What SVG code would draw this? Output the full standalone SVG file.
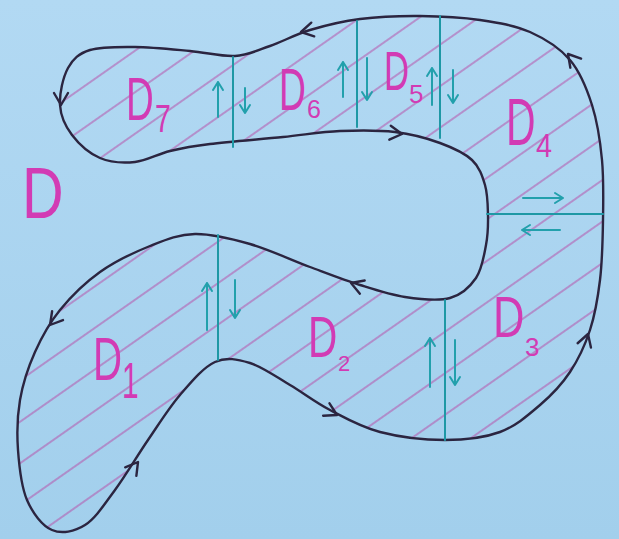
<svg xmlns="http://www.w3.org/2000/svg" width="619" height="539" viewBox="0 0 619 539">
<defs>
<linearGradient id="bg" x1="0" y1="0" x2="0" y2="1">
<stop offset="0" stop-color="#b2d9f3"/>
<stop offset="1" stop-color="#a2cfec"/>
</linearGradient>
<pattern id="hatch" patternUnits="userSpaceOnUse" width="100" height="34" patternTransform="rotate(-35)">
<line x1="0" y1="17" x2="100" y2="17" stroke="#b84aa6" stroke-width="1.1"/>
</pattern>
<path id="ah" d="M-12,-7 L0,0 L-12,7"/>
<path id="region-path" d="M60,105 C60.7,116.2 65.3,126.2 72,135 C78.7,143.8 89.5,153.5 100,158 C110.5,162.5 123.3,163.2 135,162 C146.7,160.8 157.5,154 170,151 C182.5,148 191.2,146.3 210,144 C228.8,141.7 261.3,139.2 283,137 C304.7,134.8 321.3,131.8 340,131 C358.7,130.2 378.3,130 395,132 C411.7,134 427.2,138.3 440,143 C452.8,147.7 464.5,153 472,160 C479.5,167 482.3,175.8 485,185 C487.7,194.2 487.8,205 488,215 C488.2,225 488,234.5 486,245 C484,255.5 482,269.2 476,278 C470,286.8 461.8,294.8 450,298 C438.2,301.2 420,299.2 405,297 C390,294.8 375.8,290 360,285 C344.2,280 328.3,273.8 310,267 C291.7,260.2 269.2,249.5 250,244 C230.8,238.5 211.7,233.7 195,234 C178.3,234.3 165.8,239.7 150,246 C134.2,252.3 115,261.3 100,272 C85,282.7 70.8,296.7 60,310 C49.2,323.3 41.7,337 35,352 C28.3,367 22.8,383.7 20,400 C17.2,416.3 16.8,433.3 18,450 C19.2,466.7 21.3,486.7 27,500 C32.7,513.3 42.3,525.8 52,530 C61.7,534.2 74.5,531.7 85,525 C95.5,518.3 104.5,504.2 115,490 C125.5,475.8 137.2,455.8 148,440 C158.8,424.2 168.8,408 180,395 C191.2,382 203.3,367.3 215,362 C226.7,356.7 237.5,359.2 250,363 C262.5,366.8 276.7,377.2 290,385 C303.3,392.8 315,402.2 330,410 C345,417.8 360.8,427 380,432 C399.2,437 425,440 445,440 C465,440 484.2,437.8 500,432 C515.8,426.2 528.3,415 540,405 C551.7,395 561.7,384.5 570,372 C578.3,359.5 585,345.3 590,330 C595,314.7 597.8,298.3 600,280 C602.2,261.7 602.7,240 603,220 C603.3,200 603.8,179.2 602,160 C600.2,140.8 597.3,121.7 592,105 C586.7,88.3 580.3,72.2 570,60 C559.7,47.8 545,38.7 530,32 C515,25.3 498.3,22.7 480,20 C461.7,17.3 440,16.2 420,16 C400,15.8 378.3,16.7 360,19 C341.7,21.3 325,25.5 310,30 C295,34.5 282.5,41.7 270,46 C257.5,50.3 248.3,55.2 235,56 C221.7,56.8 206.7,52.5 190,51 C173.3,49.5 151.7,47.2 135,47 C118.3,46.8 101.2,46.5 90,50 C78.8,53.5 73,58.8 68,68 C63,77.2 59.3,93.8 60,105 Z"/>
</defs>
<style>
.edge{fill:none;stroke:#2b2540;stroke-width:2.4;stroke-linecap:round;stroke-linejoin:round}
.cut{fill:none;stroke:#1e98a5;stroke-width:2;stroke-linecap:round}
.tarr{fill:none;stroke:#22a0ac;stroke-width:2;stroke-linecap:round;stroke-linejoin:round}
.lbl{fill:#d23bb4;font-family:"Liberation Sans",Arial,sans-serif}
</style>
<rect x="0" y="0" width="619" height="539" fill="url(#bg)"/>

<g id="region">
<use href="#region-path" fill="url(#hatch)"/>
<use href="#region-path" class="edge"/>
</g>

<g id="cuts">
<path class="cut" d="M233,57 V147"/>
<path class="cut" d="M357,21 V127"/>
<path class="cut" d="M440,16 V138"/>
<path class="cut" d="M487,214 H603" stroke-width="4.5"/>
<path class="cut" d="M218,235 V360"/>
<path class="cut" d="M445,300 V440"/>
</g>

<g id="connectors">
<g class="edge" stroke-width="2">
<use href="#ah" transform="translate(61,105) rotate(90)"/>
<use href="#ah" transform="translate(402,134) rotate(6)"/>
<use href="#ah" transform="translate(351,283) rotate(200)"/>
<use href="#ah" transform="translate(50,325) rotate(129)"/>
<use href="#ah" transform="translate(138,462) rotate(-53)"/>
<use href="#ah" transform="translate(337,415) rotate(27)"/>
<use href="#ah" transform="translate(588,334) rotate(-72)"/>
<use href="#ah" transform="translate(568,54) rotate(-130)"/>
<use href="#ah" transform="translate(301,32) rotate(168)"/>
</g>
<g class="tarr">
<path d="M218,117 V82 M213,90 L218,82 L223,90"/>
<path d="M245,88 V113 M240,105 L245,113 L250,105"/>
<path d="M343,97 V62 M338,70 L343,62 L348,70"/>
<path d="M367,58 V100 M362,92 L367,100 L372,92"/>
<path d="M432,105 V68 M427,76 L432,68 L437,76"/>
<path d="M453,70 V103 M448,95 L453,103 L458,95"/>
<path d="M523,198 H563 M555,193 L563,198 L555,203"/>
<path d="M560,230 H522 M530,225 L522,230 L530,235"/>
<path d="M207,330 V283 M202,291 L207,283 L212,291"/>
<path d="M235,280 V318 M230,310 L235,318 L240,310"/>
<path d="M430,387 V338 M425,346 L430,338 L435,346"/>
<path d="M455,340 V385 M450,377 L455,385 L460,377"/>
</g>
</g>

<g id="label-D"><text class="lbl" font-size="72" transform="translate(22,218) scale(0.8,1)">D</text></g>
<g id="label-D7"><text class="lbl" font-size="62" transform="translate(126,120) scale(0.62,1)">D</text><text class="lbl" font-size="38" transform="translate(155,132) scale(0.75,1)">7</text></g>
<g id="label-D6"><text class="lbl" font-size="60" transform="translate(279,110) scale(0.62,1)">D</text><text class="lbl" font-size="25" transform="translate(307,118)">6</text></g>
<g id="label-D5"><text class="lbl" font-size="56" transform="translate(384,90) scale(0.62,1)">D</text><text class="lbl" font-size="26" transform="translate(409,103)">5</text></g>
<g id="label-D4"><text class="lbl" font-size="66" transform="translate(506,145) scale(0.62,1)">D</text><text class="lbl" font-size="34" transform="translate(536,157) scale(0.85,1)">4</text></g>
<g id="label-D1"><text class="lbl" font-size="62" transform="translate(93,380) scale(0.65,1)">D</text><text class="lbl" font-size="50" transform="translate(122,398) scale(0.6,1)">1</text></g>
<g id="label-D2"><text class="lbl" font-size="58" transform="translate(308,357) scale(0.7,1)">D</text><text class="lbl" font-size="22" transform="translate(338,371)">2</text></g>
<g id="label-D3"><text class="lbl" font-size="58" transform="translate(493,337) scale(0.75,1)">D</text><text class="lbl" font-size="26" transform="translate(525,356)">3</text></g>
</svg>
